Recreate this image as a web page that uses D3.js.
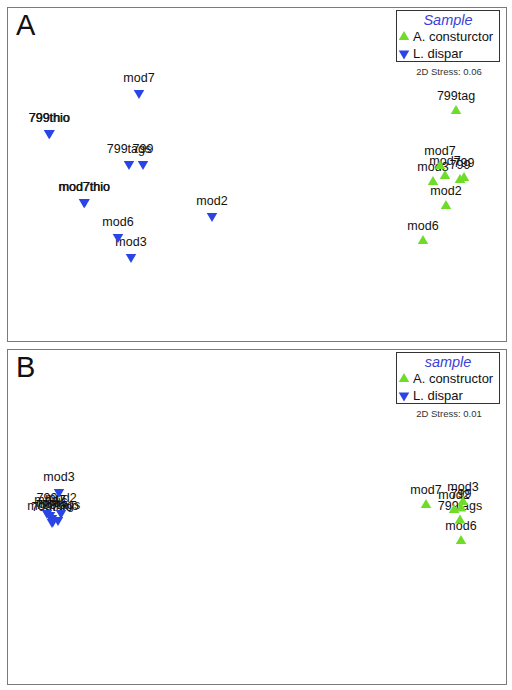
<!DOCTYPE html>
<html>
<head>
<meta charset="utf-8">
<script src="https://cdn.jsdelivr.net/npm/d3@7"></script>
<style>
  html, body { margin: 0; padding: 0; background: #fff; }
  svg { display: block; }
</style>
</head>
<body>
<svg id="chart" width="512" height="690"></svg>
<script>
// ---------------- DATA (MDS coordinates) ----------------
const panelLetters = ["A", "B"];
const legendTitles = ["Sample", "sample"];
const legendNamesA = ["A. consturctor", "L. dispar"];
const legendNamesB = ["A. constructor", "L. dispar"];
const stressLabels = ["2D Stress: 0.06", "2D Stress: 0.01"];

// Panel A
const dispar_A = [
  { label: "mod7",     x: -118, y: 81 },
  { label: "799thio",  x: -208, y: 41 },
  { label: "799thio",  x: -207.4, y: 41 },
  { label: "799tags",  x: -128, y: 10 },
  { label: "799",      x: -114, y: 10 },
  { label: "mod7thio", x: -173, y: -28 },
  { label: "mod7thio", x: -172.4, y: -28 },
  { label: "mod2",     x: -45,  y: -42 },
  { label: "mod6",     x: -139, y: -63 },
  { label: "mod3",     x: -126, y: -83 }
];
const constructor_A = [
  { label: "799tag", x: 199, y: 63 },
  { label: "mod7",   x: 183, y: 8 },
  { label: "mod7",   x: 188, y: -2 },
  { label: "mod3",   x: 176, y: -8 },
  { label: "799",    x: 203, y: -6 },
  { label: "799",    x: 207, y: -4 },
  { label: "mod2",   x: 189, y: -32 },
  { label: "mod6",   x: 166, y: -67 }
];

// Panel B
const dispar_B = [
  { label: "mod3",     x: -198, y: 24.5 },
  { label: "mod2",     x: -196, y: 3.5 },
  { label: "799",      x: -210, y: 3.5 },
  { label: "mod7",     x: -207, y: 1.5 },
  { label: "mod6",     x: -205, y: -1.5 },
  { label: "799tags",  x: -199, y: -3.5 },
  { label: "mod7thio", x: -204, y: -4.5 },
  { label: "799thio",  x: -205, y: -5.5 }
];
const constructor_B = [
  { label: "mod7",    x: 169, y: 11.5 },
  { label: "mod3",    x: 206, y: 14.5 },
  { label: "mod2",    x: 197, y: 6.5 },
  { label: "799",     x: 204, y: 8 },
  { label: "799tags", x: 203, y: -4 },
  { label: "mod6",    x: 204, y: -24.5 }
];

// ---------------- STYLE ----------------
const GREEN = "#6fdc2a";
const BLUE = "#2a45e6";
const TITLE_BLUE = "#3b3fd6";
const FONT = "Liberation Sans, Arial, Helvetica, sans-serif";

const svg = d3.select("#chart");

const panels = [
  { letter: panelLetters[0], title: legendTitles[0], names: legendNamesA, stress: stressLabels[0],
    dispar: dispar_A, cons: constructor_A, top: 7, bottom: 341 },
  { letter: panelLetters[1], title: legendTitles[1], names: legendNamesB, stress: stressLabels[1],
    dispar: dispar_B, cons: constructor_B, top: 349, bottom: 684 }
];

const left = 7, right = 506;

const upTri = d3.symbol().type(d3.symbolTriangle).size(48);

panels.forEach(p => {
  const g = svg.append("g");
  const x = d3.scaleLinear().domain([-250, 250]).range([left, left + 500]);
  const mid = (p.top + p.bottom) / 2;
  const y = d3.scaleLinear().domain([167, -167]).range([mid - 167, mid + 167]);

  // frame
  g.append("rect")
    .attr("x", left + 0.5).attr("y", p.top + 0.5)
    .attr("width", right - left).attr("height", p.bottom - p.top)
    .attr("fill", "none").attr("stroke", "#7a7a7a").attr("stroke-width", 1);

  // panel letter
  g.append("text")
    .attr("x", 16).attr("y", p.top + 28)
    .attr("font-family", FONT).attr("font-size", 29)
    .attr("fill", "#111").text(p.letter);

  // legend
  const lx = 396, ly = p.top + 3;
  g.append("rect")
    .attr("x", lx + 0.5).attr("y", ly + 0.5)
    .attr("width", 103).attr("height", 51)
    .attr("fill", "#fff").attr("stroke", "#333").attr("stroke-width", 1);
  g.append("text")
    .attr("x", lx + 52).attr("y", ly + 15)
    .attr("text-anchor", "middle")
    .attr("font-family", FONT).attr("font-size", 14.5).attr("font-style", "italic")
    .attr("fill", TITLE_BLUE).text(p.title);
  const legendItems = [
    { name: p.names[0], color: GREEN, rot: 0 },
    { name: p.names[1], color: BLUE, rot: 180 }
  ];
  legendItems.forEach((it, i) => {
    const yy = ly + 31 + i * 16.5;
    g.append("path")
      .attr("d", upTri())
      .attr("transform", `translate(${lx + 8},${yy - 4}) rotate(${it.rot})`)
      .attr("fill", it.color);
    g.append("text")
      .attr("x", lx + 17).attr("y", yy)
      .attr("font-family", FONT).attr("font-size", 13)
      .attr("fill", "#111").text(it.name);
  });
  g.append("text")
    .attr("x", lx + 53).attr("y", ly + 65)
    .attr("text-anchor", "middle")
    .attr("font-family", FONT).attr("font-size", 9.5)
    .attr("fill", "#333").text(p.stress);

  // labels
  const all = [
    ...p.dispar.map(d => ({ ...d, color: BLUE, rot: 180 })),
    ...p.cons.map(d => ({ ...d, color: GREEN, rot: 0 }))
  ];
  g.append("g").selectAll("text").data(all).join("text")
    .attr("x", d => x(d.x)).attr("y", d => y(d.y) - 11)
    .attr("text-anchor", "middle")
    .attr("font-family", FONT).attr("font-size", 12.5)
    .attr("fill", "#111").text(d => d.label);

  // points
  g.append("g").selectAll("path").data(all).join("path")
    .attr("d", upTri())
    .attr("transform", d => `translate(${x(d.x)},${y(d.y)}) rotate(${d.rot})`)
    .attr("fill", d => d.color);
});
</script>
</body>
</html>
